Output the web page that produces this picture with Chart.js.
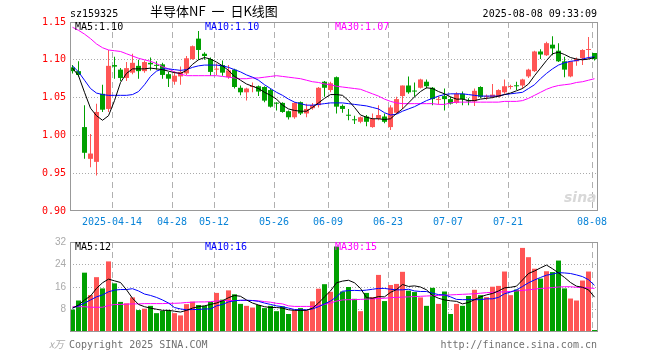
<!DOCTYPE html>
<html>
<head>
<meta charset="utf-8">
<script src="https://cdn.jsdelivr.net/npm/chart.js@4.4.1/dist/chart.umd.min.js"></script>
<style>
  body { margin: 0; background: #fff; }
  #wrap { position: relative; width: 660px; height: 360px; overflow: hidden; }
  canvas { position: absolute; left: 0; }
  .t { position: absolute; font: 10px "DejaVu Sans Mono", monospace; line-height: 10px; white-space: pre; }
</style>
</head>
<body>
<div id="wrap">
  <canvas id="k" width="660" height="230" style="top:0"></canvas>
  <canvas id="v" width="660" height="110" style="top:232px"></canvas>

  <div class="t" style="left:70px;top:9px">sz159325</div>
  <div class="t" style="left:150px;top:4px;font:13px 'Noto Sans CJK SC';line-height:14px;word-spacing:3px">半导体NF 一 日K线图</div>
  <div class="t" style="right:63px;top:9px">2025-08-08 09:33:09</div>

  <div class="t" style="left:75px;top:22px;color:#000">MA5:1.10</div>
  <div class="t" style="left:205px;top:22px;color:#00f">MA10:1.10</div>
  <div class="t" style="left:335px;top:22px;color:#f0f">MA30:1.07</div>

  <div class="t" style="left:564px;top:189px;font:italic bold 14px 'DejaVu Sans';color:#d8d8d8">sina</div>

  <div class="t" style="left:75px;top:242px;color:#000">MA5:12</div>
  <div class="t" style="left:205px;top:242px;color:#00f">MA10:16</div>
  <div class="t" style="left:335px;top:242px;color:#f0f">MA30:15</div>

  <div class="t" style="left:49px;top:336px;font:italic 10px 'Noto Sans CJK SC';color:#aaa">x万</div>
  <div class="t" style="left:69px;top:340px;color:#707070">Copyright 2025 SINA.COM</div>
  <div class="t" style="right:63px;top:340px;color:#707070">http://finance.sina.com.cn</div>
</div>
<script>
// trading days shown, 2025
const days = ["04-02","04-03","04-07","04-08","04-09","04-10","04-11","04-14","04-15","04-16",
  "04-17","04-18","04-21","04-22","04-23","04-24","04-25","04-28","04-29","04-30",
  "05-06","05-07","05-08","05-09","05-12","05-13","05-14","05-15","05-16","05-19",
  "05-20","05-21","05-22","05-23","05-26","05-27","05-28","05-29","05-30","06-03",
  "06-04","06-05","06-06","06-09","06-10","06-11","06-12","06-13","06-16","06-17",
  "06-18","06-19","06-20","06-23","06-24","06-25","06-26","06-27","06-30","07-01",
  "07-02","07-03","07-04","07-07","07-08","07-09","07-10","07-11","07-14","07-15",
  "07-16","07-17","07-18","07-21","07-22","07-23","07-24","07-25","07-28","07-29",
  "07-30","07-31","08-01","08-04","08-05","08-06","08-07","08-08"];
const tickDays = ["04-14","04-28","05-12","05-26","06-09","06-23","07-07","07-21","08-08"];
const tickLabels = ["2025-04-14","04-28","05-12","05-26","06-09","06-23","07-07","07-21","08-08"];
const priceTicks = [0.90, 0.95, 1.00, 1.05, 1.10, 1.15];
const volTicks = [0, 8, 16, 24, 32];

const open = [1.090,1.085,1.011,0.969,0.965,1.055,1.035,1.093,1.087,1.076,
  1.083,1.092,1.085,1.096,1.093,1.094,1.081,1.071,1.078,1.082,
  1.101,1.128,1.108,1.101,1.087,1.093,1.077,1.087,1.063,1.057,
  1.064,1.065,1.064,1.060,1.043,1.043,1.032,1.024,1.044,1.029,
  1.036,1.040,1.071,1.060,1.077,1.039,1.027,1.021,1.018,1.025,
  1.011,1.022,1.025,1.011,1.030,1.052,1.066,1.059,1.063,1.071,
  1.063,1.047,1.052,1.048,1.043,1.055,1.046,1.045,1.064,1.051,
  1.051,1.051,1.057,1.064,1.066,1.066,1.078,1.085,1.111,1.106,
  1.120,1.112,1.098,1.078,1.098,1.102,1.113,1.109];
const high = [1.093,1.098,1.040,1.002,1.042,1.067,1.113,1.104,1.089,1.097,
  1.108,1.100,1.099,1.103,1.098,1.096,1.084,1.085,1.091,1.105,
  1.119,1.138,1.110,1.103,1.095,1.099,1.093,1.088,1.066,1.063,
  1.070,1.066,1.065,1.062,1.044,1.044,1.033,1.044,1.045,1.042,
  1.043,1.064,1.072,1.071,1.078,1.041,1.035,1.026,1.025,1.027,
  1.029,1.040,1.029,1.040,1.051,1.066,1.078,1.070,1.075,1.074,
  1.064,1.052,1.062,1.051,1.057,1.058,1.049,1.062,1.065,1.054,
  1.068,1.061,1.074,1.067,1.071,1.075,1.088,1.112,1.114,1.124,
  1.131,1.122,1.104,1.098,1.103,1.114,1.130,1.109];
const low = [1.082,1.078,0.969,0.958,0.947,1.031,1.031,1.075,1.072,1.072,
  1.081,1.075,1.083,1.086,1.087,1.075,1.064,1.067,1.067,1.080,
  1.100,1.100,1.100,1.079,1.080,1.079,1.075,1.062,1.053,1.046,
  1.057,1.052,1.044,1.037,1.033,1.030,1.021,1.022,1.027,1.024,
  1.034,1.037,1.051,1.057,1.029,1.030,1.020,1.015,1.016,1.012,
  1.010,1.020,1.016,1.007,1.029,1.035,1.055,1.051,1.062,1.062,
  1.040,1.041,1.033,1.041,1.042,1.040,1.040,1.039,1.049,1.047,
  1.049,1.050,1.055,1.061,1.060,1.062,1.076,1.084,1.101,1.105,
  1.106,1.097,1.077,1.077,1.092,1.093,1.101,1.099];
const close = [1.085,1.080,0.977,0.976,1.031,1.034,1.092,1.091,1.076,1.089,
  1.096,1.085,1.097,1.094,1.092,1.080,1.075,1.079,1.084,1.102,
  1.118,1.113,1.105,1.084,1.088,1.083,1.086,1.064,1.057,1.062,
  1.065,1.058,1.046,1.038,1.042,1.031,1.024,1.043,1.029,1.035,
  1.040,1.063,1.063,1.069,1.038,1.035,1.026,1.020,1.024,1.018,
  1.022,1.027,1.018,1.037,1.048,1.066,1.057,1.058,1.074,1.065,
  1.048,1.048,1.048,1.042,1.055,1.048,1.045,1.059,1.051,1.052,
  1.054,1.060,1.065,1.065,1.065,1.074,1.087,1.111,1.107,1.122,
  1.115,1.098,1.087,1.098,1.101,1.113,1.114,1.101];

const ma5 = [1.089,1.079,1.057,1.036,1.026,1.020,1.026,1.046,1.070,1.082,
  1.088,1.088,1.088,1.089,1.088,1.087,1.085,1.083,1.082,1.086,
  1.094,1.100,1.103,1.101,1.097,1.092,1.086,1.078,1.073,1.068,
  1.065,1.062,1.057,1.053,1.048,1.040,1.035,1.033,1.032,1.032,
  1.037,1.043,1.049,1.054,1.054,1.053,1.046,1.037,1.027,1.024,
  1.022,1.022,1.021,1.022,1.029,1.035,1.043,1.051,1.058,1.063,
  1.062,1.058,1.055,1.051,1.048,1.048,1.046,1.046,1.048,1.049,
  1.050,1.052,1.054,1.056,1.059,1.062,1.068,1.079,1.089,1.099,
  1.108,1.110,1.107,1.103,1.101,1.100,1.101,1.103];
const ma10 = [1.092,1.084,1.073,1.062,1.056,1.054,1.053,1.053,1.053,1.053,
  1.054,1.058,1.067,1.078,1.085,1.088,1.088,1.087,1.086,1.087,
  1.090,1.092,1.093,1.093,1.093,1.092,1.090,1.087,1.084,1.080,
  1.077,1.073,1.067,1.062,1.057,1.053,1.048,1.044,1.042,1.040,
  1.040,1.041,1.042,1.043,1.043,1.043,1.042,1.041,1.040,1.039,
  1.037,1.035,1.030,1.027,1.028,1.032,1.035,1.038,1.042,1.046,
  1.049,1.052,1.054,1.055,1.055,1.055,1.054,1.053,1.052,1.052,
  1.052,1.052,1.054,1.055,1.056,1.057,1.062,1.067,1.075,1.082,
  1.088,1.093,1.096,1.098,1.099,1.101,1.103,1.104];
const ma30 = [1.143,1.139,1.134,1.128,1.121,1.116,1.113,1.112,1.111,1.108,
  1.105,1.102,1.100,1.098,1.095,1.091,1.088,1.084,1.081,1.079,
  1.079,1.079,1.079,1.079,1.079,1.078,1.077,1.076,1.075,1.075,
  1.076,1.076,1.077,1.078,1.079,1.078,1.077,1.076,1.075,1.073,
  1.071,1.070,1.068,1.067,1.065,1.064,1.063,1.062,1.061,1.058,
  1.055,1.052,1.048,1.045,1.043,1.042,1.042,1.042,1.042,1.042,
  1.042,1.041,1.041,1.043,1.044,1.044,1.044,1.044,1.044,1.044,
  1.044,1.044,1.045,1.045,1.045,1.046,1.049,1.053,1.057,1.061,
  1.064,1.066,1.067,1.068,1.070,1.071,1.073,1.075];

// volume, 万
const vol = [8.0,11.2,21.1,13.1,19.5,15.5,25.1,17.3,10.7,10.2,
  12.3,7.8,8.3,9.3,6.7,7.5,7.8,6.7,5.9,9.9,
  10.8,9.6,9.3,10.7,13.9,11.5,14.8,13.4,10.0,9.3,
  8.7,9.6,8.5,9.3,7.4,9.1,6.4,7.7,8.5,7.7,
  10.9,15.4,17.0,14.3,30.4,14.4,16.0,11.8,7.4,13.9,
  12.4,20.3,11.0,16.7,17.1,21.4,14.7,14.2,12.3,9.3,
  15.7,10.0,14.4,6.4,10.0,9.3,12.8,15.0,13.1,12.4,
  16.1,16.4,21.5,13.1,15.1,29.9,26.6,22.5,19.0,21.6,
  21.3,25.4,15.5,11.9,11.2,18.3,21.5,0.7];
const vma5 = [8.5,9.6,11.4,12.8,15.5,17.5,18.8,18.2,17.6,15.0,
  12.0,9.8,9.0,8.5,8.1,7.7,7.7,7.4,7.1,7.7,
  8.5,9.0,9.3,9.8,10.3,11.1,12.2,13.0,12.7,11.4,
  10.3,9.6,9.0,8.7,8.7,8.5,7.9,7.7,7.7,7.7,
  8.5,10.3,12.5,14.6,17.5,18.1,18.4,17.5,15.5,12.2,
  12.0,12.6,12.5,14.1,15.1,16.9,16.2,16.4,16.0,15.0,
  13.0,12.0,11.4,11.1,10.9,10.0,10.5,11.5,12.5,13.2,
  13.7,14.6,15.7,15.9,16.3,18.5,20.8,21.7,22.8,23.8,
  22.5,21.0,19.4,17.6,16.3,15.9,15.0,12.4];
const vma10 = [8.5,9.3,10.3,11.4,12.5,13.2,14.3,14.9,15.1,15.1,
  15.4,14.6,13.5,13.0,12.3,11.4,10.3,8.7,8.2,7.9,
  8.0,8.0,8.2,8.2,9.3,9.8,10.7,11.1,11.3,11.3,
  11.2,10.9,10.3,9.8,9.3,9.0,8.5,8.0,7.9,7.9,
  8.2,9.0,10.0,11.0,12.5,14.5,14.7,14.8,14.7,14.9,
  15.2,15.5,15.5,15.2,15.0,15.0,15.2,14.6,14.4,14.4,
  13.8,13.3,13.2,12.5,11.6,11.5,11.5,11.5,11.5,11.8,
  11.8,12.3,13.6,14.2,15.0,16.2,17.5,18.5,19.4,20.2,
  20.6,21.1,21.0,20.8,20.3,19.7,18.6,16.6];
const vma30 = [9.0,9.0,9.0,8.8,8.8,8.8,9.4,9.8,9.8,9.9,
  10.0,10.0,10.1,10.1,10.1,10.1,10.2,10.2,10.3,10.5,
  10.6,10.7,10.7,10.8,11.0,11.2,11.2,11.2,11.2,11.2,
  11.2,11.1,10.8,10.6,10.2,10.0,9.3,9.1,9.1,9.1,
  9.1,9.2,9.8,10.3,11.0,11.4,11.5,11.5,11.6,11.7,
  11.8,11.9,12.0,12.2,12.3,12.4,12.5,12.6,12.7,12.8,
  12.9,13.0,13.1,13.2,13.3,13.4,13.5,13.6,13.8,14.0,
  14.1,14.2,14.3,14.4,14.6,14.8,15.0,15.2,15.5,15.6,
  15.8,16.0,16.1,16.1,15.9,15.8,15.7,15.5];

const RED = "#ff5555";
const GREEN = "#00a000";
const MONO = '"DejaVu Sans Mono", monospace';

// bodies sit 5/12 of a slot right of the slot's left edge, where the date lines fall
const X_MIN = -5 / 12;
const X_MAX = days.length - 5 / 12;
const tickPos = tickDays.map((d) => days.indexOf(d) - 5 / 12);

const colors = close.map((c, i) => (c >= open[i] ? RED : GREEN));
const pts = (arr) => arr.map((y, i) => ({ x: i, y: y }));

const frame = {
  id: "frame",
  afterDraw(chart) {
    const { ctx, chartArea: a } = chart;
    ctx.save();
    ctx.strokeStyle = "#999";
    ctx.lineWidth = 1;
    ctx.strokeRect(a.left + 0.5, a.top + 0.5, a.right - a.left - 1, a.bottom - a.top - 1);
    ctx.restore();
  },
};

function maLine(arr, color) {
  return {
    type: "line",
    data: pts(arr),
    borderColor: color,
    borderWidth: 1,
    pointRadius: 0,
    tension: 0,
    fill: false,
    order: 0,
  };
}

function xAxis(showLabels) {
  return {
    type: "linear",
    min: X_MIN,
    max: X_MAX,
    offset: false,
    afterBuildTicks: (s) => {
      s.ticks = tickPos.map((v) => ({ value: v }));
    },
    ticks: {
      display: showLabels,
      autoSkip: false,
      maxRotation: 0,
      padding: 5,
      color: "#0a84d8",
      font: { family: MONO, size: 10 },
      callback: (v, i) => tickLabels[i],
    },
    grid: { offset: false, color: "#b0b0b0", drawTicks: false },
    border: { display: false, dash: [6, 4] },
    afterFit: (s) => {
      s.height = showLabels ? 19 : 0;
    },
  };
}

function yGrid(min, max) {
  return {
    color: (c) => (c.tick && (c.tick.value === min || c.tick.value === max) ? "rgba(0,0,0,0)" : "#aaa"),
    drawTicks: false,
  };
}

new Chart(document.getElementById("k"), {
  type: "bar",
  data: {
    datasets: [
      maLine(ma5, "#000"),
      maLine(ma10, "#00f"),
      maLine(ma30, "#f0f"),
      {
        data: days.map((d, i) => ({ x: i, y: [open[i], close[i]] })),
        backgroundColor: colors,
        barThickness: 5,
        grouped: false,
        minBarLength: 1,
        inflateAmount: 0,
        order: 1,
      },
      {
        data: days.map((d, i) => ({ x: i, y: [low[i], high[i]] })),
        backgroundColor: colors,
        barThickness: 1,
        grouped: false,
        inflateAmount: 0,
        order: 2,
      },
    ],
  },
  options: {
    responsive: false,
    animation: false,
    events: [],
    layout: { padding: { left: 0, right: 62, top: 22, bottom: 0 } },
    plugins: { legend: { display: false }, tooltip: { enabled: false } },
    scales: {
      x: xAxis(true),
      y: {
        min: 0.9,
        max: 1.15,
        beginAtZero: false,
        afterBuildTicks: (s) => {
          s.ticks = priceTicks.map((v) => ({ value: v }));
        },
        ticks: {
          color: "#f00",
          padding: 4,
          font: { family: MONO, size: 10 },
          callback: (v) => v.toFixed(2),
        },
        grid: yGrid(0.9, 1.15),
        border: { display: false, dash: [1, 2] },
        afterFit: (s) => {
          s.width = 70;
        },
      },
    },
  },
  plugins: [frame],
});

new Chart(document.getElementById("v"), {
  type: "bar",
  data: {
    datasets: [
      maLine(vma5, "#000"),
      maLine(vma10, "#00f"),
      maLine(vma30, "#f0f"),
      {
        data: pts(vol),
        backgroundColor: colors,
        barThickness: 5,
        grouped: false,
        inflateAmount: 0,
        order: 1,
      },
    ],
  },
  options: {
    responsive: false,
    animation: false,
    events: [],
    layout: { padding: { left: 0, right: 62, top: 8, bottom: 2 } },
    plugins: { legend: { display: false }, tooltip: { enabled: false } },
    scales: {
      x: xAxis(false),
      y: {
        min: 0,
        max: 32,
        afterBuildTicks: (s) => {
          s.ticks = volTicks.map((v) => ({ value: v }));
        },
        ticks: {
          color: "#aaa",
          padding: 4,
          font: { family: '"Liberation Sans", sans-serif', size: 10 },
          callback: (v) => (v === 0 ? "" : String(v)),
        },
        grid: yGrid(0, 32),
        border: { display: false, dash: [1, 2] },
        afterFit: (s) => {
          s.width = 70;
        },
      },
    },
  },
  plugins: [frame],
});
</script>
</body>
</html>
